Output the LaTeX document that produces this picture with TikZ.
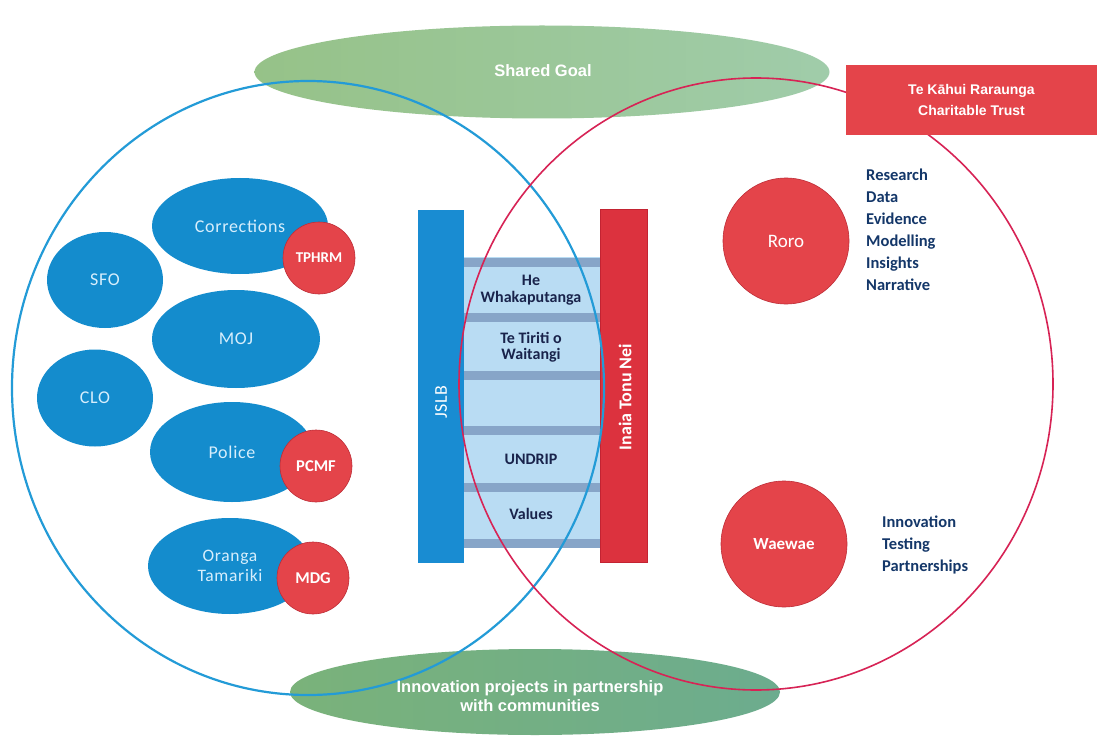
\documentclass[tikz,border=0pt]{standalone}
\usepackage{fontspec}
\setmainfont{Carlito}
\newfontfamily\orgfont[LetterSpace=4]{Carlito}
\newfontfamily\arialf{Liberation Sans}
\usetikzlibrary{shapes.geometric}
\definecolor{orgblue}{RGB}{20,140,205}
\definecolor{orgtext}{RGB}{215,238,252}
\definecolor{tagred}{RGB}{228,68,74}
\definecolor{tagedge}{RGB}{190,45,55}
\definecolor{goalL}{RGB}{150,194,136}
\definecolor{goalR}{RGB}{160,204,170}
\definecolor{botL}{RGB}{122,178,122}
\definecolor{botR}{RGB}{108,172,142}
\definecolor{bluering}{RGB}{35,155,215}
\definecolor{redring}{RGB}{215,35,85}
\definecolor{ladderbg}{RGB}{185,220,243}
\definecolor{stripe}{RGB}{135,165,200}
\definecolor{barblue}{RGB}{25,140,210}
\definecolor{barred}{RGB}{220,50,62}
\definecolor{barreddark}{RGB}{195,35,50}
\definecolor{navy}{RGB}{25,35,75}
\definecolor{listnavy}{RGB}{20,55,105}
\begin{document}
\begin{tikzpicture}[x=1pt,y=-1pt,
  goal/.style={ellipse, draw=none, inner sep=0pt},
  goaltext/.style={text=white, align=center, inner sep=0pt, font=\arialf\bfseries\fontsize{16.5}{19}\selectfont},
  org/.style={ellipse, fill=orgblue, inner sep=0pt, text=orgtext, align=center, font=\orgfont\fontsize{18}{20}\selectfont},
  tag/.style={circle, fill=tagred, draw=tagedge, line width=0.6pt, inner sep=0pt, minimum size=72pt, text=white, font=\bfseries\fontsize{15}{17}\selectfont},
  bigred/.style={circle, fill=tagred, draw=tagedge, line width=0.6pt, inner sep=0pt, minimum size=126pt, text=white},
  ring/.style={ellipse, draw, line width=2.2pt, inner sep=0pt, fill=none},
  rungtext/.style={text=navy, align=center, inner sep=0pt, font=\bfseries\fontsize{16}{16.5}\selectfont},
  listtext/.style={text=listnavy, align=left, anchor=west, inner sep=0pt, font=\bfseries\fontsize{16.5}{22}\selectfont},
  bar/.style={rectangle, inner sep=0pt, minimum width=46pt, minimum height=353pt},
  barlabel/.style={rotate=90, text=white, inner sep=0pt}
]
\useasboundingbox (0,0) rectangle (1097,738);
\fill[white] (0,0) rectangle (1097,738);

% green ellipses
\node[goal, left color=goalL, right color=goalR, minimum width=575pt, minimum height=93pt] (goal) at (542,72) {};
\node[goal, left color=botL, right color=botR, minimum width=490pt, minimum height=86pt] (projects) at (535,692) {};

% ladder
\fill[ladderbg] (463,257) rectangle (600,547);
\foreach \yy in {262,317,375,430,487,543}
  \fill[stripe] (463,\yy-4.5) rectangle (600,\yy+4.5);

% bars
\node[bar, fill=barblue] (jslb) at (440.5,386.5) {};
\node[bar, fill=barred, draw=barreddark, line width=1pt, minimum width=47pt] (inaia) at (624,386) {};

% big rings
\node[ring, draw=bluering, minimum width=592pt, minimum height=614pt] (bluecircle) at (308,388) {};
\node[ring, draw=redring, line width=1.6pt, minimum width=594pt, minimum height=612pt] (redcircle) at (756,384) {};

% labels of green ellipses
\node[goaltext] (goallabel) at (543,71) {Shared Goal};
\node[goaltext] (projectslabel) at (530,696) {Innovation projects in partnership\\with communities};

% bar labels
\node[barlabel, font=\orgfont\fontsize{18}{20}\selectfont] (jslblabel) at (441,402) {JSLB};
\node[barlabel, font=\bfseries\fontsize{18}{20}\selectfont] (inaialabel) at (625,397) {Inaia Tonu Nei};

% rung texts
\node[rungtext] (hew) at (531,290) {He\\Whakaputanga};
\node[rungtext] (tiriti) at (531,347) {Te Tiriti o\\Waitangi};
\node[rungtext] (undrip) at (531,459) {UNDRIP};
\node[rungtext] (values) at (531,514) {Values};

% organisations
\node[org, minimum width=176pt, minimum height=96pt] (corrections) at (240,226) {Corrections};
\node[org, minimum width=116pt, minimum height=96pt] (sfo) at (105,280) {SFO};
\node[org, minimum width=168pt, minimum height=98pt] (moj) at (236,339) {MOJ};
\node[org, minimum width=116pt, minimum height=97pt] (clo) at (95,398) {CLO};
\node[org, minimum width=164pt, minimum height=100pt] (police) at (232,452) {Police};
\node[org, minimum width=164pt, minimum height=96pt, font=\orgfont\fontsize{17.5}{19.5}\selectfont] (oranga) at (230,566) {Oranga\\Tamariki};

\node[tag] (tphrm) at (319,258) {TPHRM};
\node[tag, font=\bfseries\fontsize{16.5}{18}\selectfont] (pcmf) at (316,466) {PCMF};
\node[tag, font=\bfseries\fontsize{16.5}{18}\selectfont] (mdg) at (313,578) {MDG};

% right side
\node[bigred, font=\fontsize{19}{21}\selectfont] (roro) at (786,241) {Roro};
\node[bigred, font=\bfseries\fontsize{17}{19}\selectfont] (waewae) at (784,544) {Waewae};
\node[listtext] (rorolist) at (866,230) {Research\\Data\\Evidence\\Modelling\\Insights\\Narrative};
\node[listtext] (waewaelist) at (882,545) {Innovation\\Testing\\Partnerships};

% trust box
\node[rectangle, fill=tagred, inner sep=0pt, minimum width=251pt, minimum height=70pt, text=white, align=center, font=\arialf\bfseries\fontsize{14}{21}\selectfont] (trust) at (971.5,100) {Te Kāhui Raraunga\\Charitable Trust};
\end{tikzpicture}
\end{document}
